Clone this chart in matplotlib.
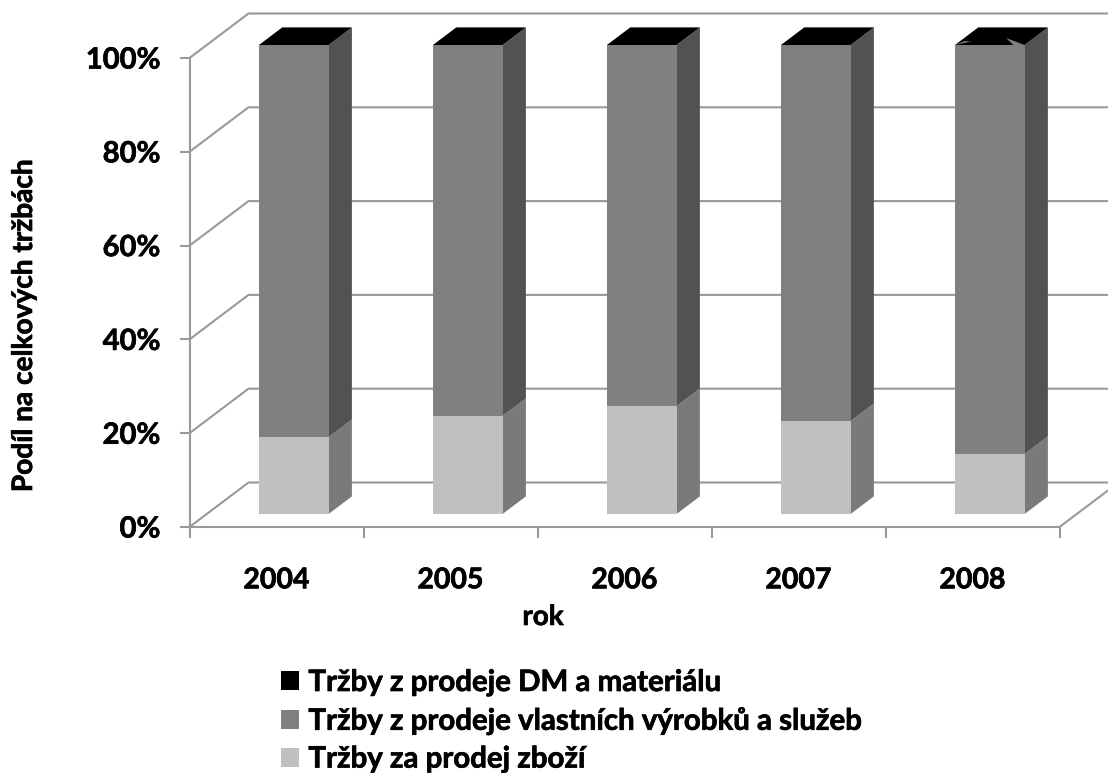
import matplotlib
matplotlib.use("Agg")
import matplotlib.pyplot as plt
import matplotlib.patheffects as pe
from matplotlib.patches import Patch, Polygon

plt.rcParams["font.family"] = ["Lato", "DejaVu Sans"]
plt.rcParams["font.weight"] = "bold"

YEARS  = ["2004", "2005", "2006", "2007", "2008"]
ZBOZI  = [16.4, 20.9, 23.0, 19.8, 12.8]     # Tržby za prodej zboží
VYROBKY = [83.5, 79.0, 76.9, 80.1, 87.1]    # vlastní výrobky a služby
DM     = [0.1, 0.1, 0.1, 0.1, 0.1]          # DM a materiál

LABELS = ["Tržby z prodeje DM a materiálu",
          "Tržby z prodeje vlastních výrobků a služeb",
          "Tržby za prodej zboží"]
YTICKS = [0, 20, 40, 60, 80, 100]

W, H = 1108, 773
X0, X1 = 189.5, 1059.5      # front plane in pixels
Y0, Y100 = 527, 58

GRID = "#999999"
FRONT = {"dm": "#000000", "vyr": "#808080", "zbo": "#c0c0c0"}
SIDE  = {"dm": "#000000", "vyr": "#525252", "zbo": "#7a7a7a"}
HEAVY = [pe.withStroke(linewidth=0.5, foreground="black")]

fig = plt.figure(figsize=(W / 100, H / 100), dpi=100)
ax = fig.add_axes([X0 / W, 1 - Y0 / H, (X1 - X0) / W, (Y0 - Y100) / H])
ax.set_xlim(0, len(YEARS))
ax.set_ylim(0, 100)

# oblique projection: depth 0 = front plane, depth 1 = back wall
DX = 59 / ((X1 - X0) / len(YEARS))
DY = 44.5 / ((Y0 - Y100) / 100)
BAR_W = 0.4
D_NEAR = 0.292
D_FAR = 0.688

def proj(x, y, d):
    return x + d * DX, y + d * DY

# ── Walls ─────────────────────────────────────────────────────────────────────
n = len(YEARS)
for t in YTICKS:
    xs, ys = zip(proj(0, t, 0), proj(0, t, 1), proj(n, t, 1))
    ax.plot(xs, ys, color=GRID, lw=1.5, clip_on=False, zorder=1, solid_capstyle="butt")
xs, ys = zip(proj(n, 0, 0), proj(n, 0, 1))
ax.plot(xs, ys, color=GRID, lw=1.5, clip_on=False, zorder=1)

# ── Bars ──────────────────────────────────────────────────────────────────────
for i in range(n):
    xc = i + 0.5
    bottom = 0
    for key, vals in (("zbo", ZBOZI), ("vyr", VYROBKY), ("dm", DM)):
        v = vals[i]
        right = xc + BAR_W / 2
        side = [proj(right, bottom, D_NEAR), proj(right, bottom + v, D_NEAR),
                proj(right, bottom + v, D_FAR), proj(right, bottom, D_FAR)]
        ax.add_patch(Polygon(side, closed=True, fc=SIDE[key], ec="none",
                             clip_on=False, zorder=3))
        fx, fy = proj(xc, bottom, D_NEAR)
        ax.bar(fx, v, width=BAR_W, bottom=fy, color=FRONT[key], clip_on=False, zorder=4)
        bottom += v
    left = xc - BAR_W / 2
    right = xc + BAR_W / 2
    top = [proj(left, bottom, D_NEAR), proj(right, bottom, D_NEAR),
           proj(right, bottom, D_FAR), proj(left, bottom, D_FAR)]
    ax.add_patch(Polygon(top, closed=True, fc="#000000", ec="none", clip_on=False, zorder=5))

# grey slivers showing through the black top of the 2008 bar
for sliver in ([(0, 0), (0.17, 0.2), (0.06, 0.22)], [(0.6, 0.4), (1, 0), (0.84, 0)]):
    pts = [proj(4.5 - BAR_W / 2 + u * BAR_W, 100, D_NEAR + w * (D_FAR - D_NEAR)) for u, w in sliver]
    ax.add_patch(Polygon(pts, closed=True, fc="#808080", ec="none", clip_on=False, zorder=6))

# ── Axes ──────────────────────────────────────────────────────────────────────
for s in ("top", "right"):
    ax.spines[s].set_visible(False)
for s in ("left", "bottom"):
    ax.spines[s].set_color(GRID)
    ax.spines[s].set_linewidth(1.5)
ax.patch.set_visible(False)
ax.set_yticks(YTICKS)
ax.set_yticklabels([f"{t}%" for t in YTICKS], fontsize=21, fontweight="bold")
ax.set_xticks(range(n + 1))
ax.set_xticklabels([])
ax.set_xticks([i + 0.5 for i in range(n)], minor=True)
ax.set_xticklabels(YEARS, minor=True, fontsize=20.5, fontweight="bold")
ax.tick_params(axis="y", color=GRID, width=1.5, length=7, pad=14)
ax.tick_params(axis="x", which="major", color=GRID, width=1.5, length=8)
ax.tick_params(axis="x", which="minor", length=0, pad=29)

txt_x = fig.text(543 / W, 1 - 617 / H, "rok", fontsize=20, fontweight="bold", ha="center", va="center")
txt_y = fig.text(24 / W, 1 - 326 / H, "Podíl na celkových tržbách", fontsize=20.2, fontweight="bold",
                 rotation=90, ha="center", va="center")

# ── Legend ────────────────────────────────────────────────────────────────────
handles = [Patch(fc=FRONT["dm"]), Patch(fc=FRONT["vyr"]), Patch(fc=FRONT["zbo"])]
leg = fig.legend(handles, LABELS, loc="upper left", bbox_to_anchor=(281 / W, 1 - 670 / H),
                 frameon=False, fontsize=21.2, handlelength=0.62, handleheight=0.62,
                 handletextpad=0.31, labelspacing=0.4, borderpad=0, borderaxespad=0)

for t in ax.get_yticklabels() + ax.get_xticklabels(minor=True) + leg.get_texts() + [txt_x, txt_y]:
    t.set_path_effects(HEAVY)

fig.savefig("out.png", dpi=100)
